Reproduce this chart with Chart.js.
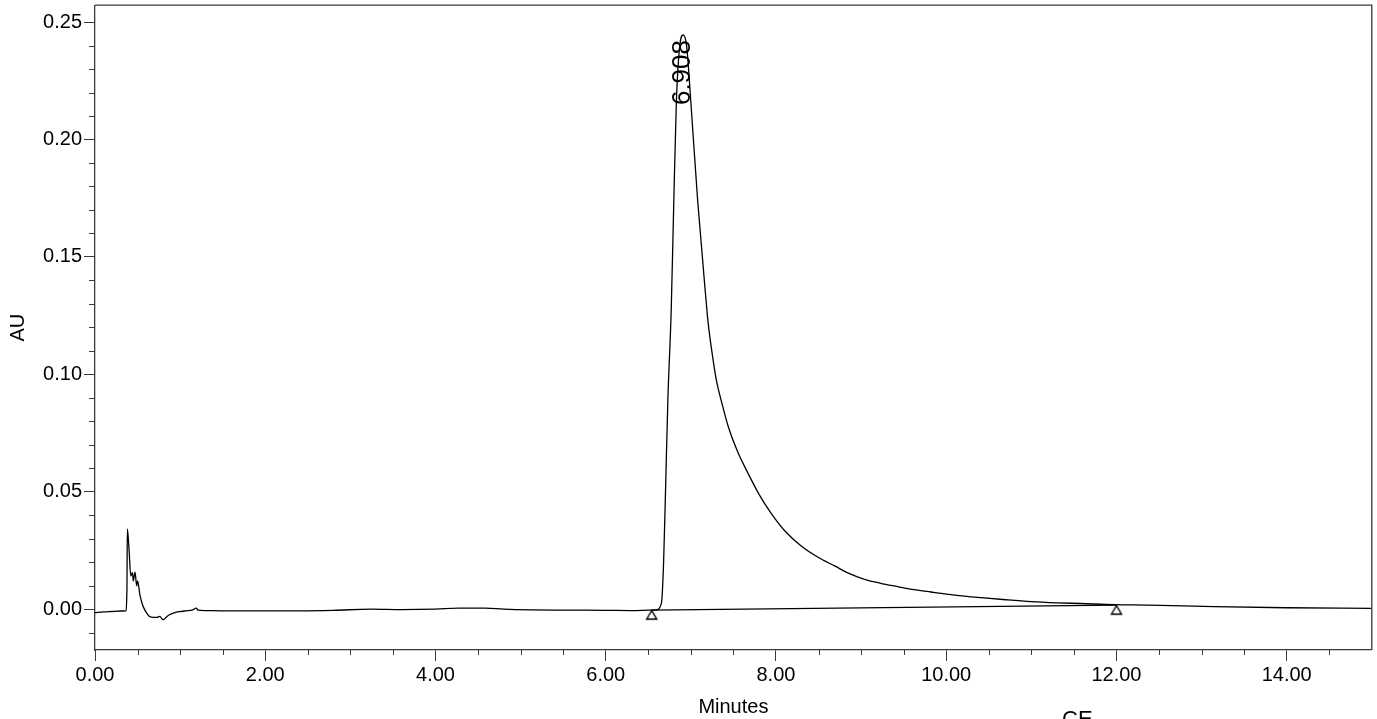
<!DOCTYPE html>
<html><head><meta charset="utf-8">
<script src="https://cdn.jsdelivr.net/npm/chart.js@4.4.1/dist/chart.umd.min.js"></script>
<style>html,body{margin:0;padding:0;background:#fff;overflow:hidden}#wrap{width:1377px;height:719px;position:relative}</style>
</head><body><div id="wrap"><canvas id="c" width="1377" height="719"></canvas></div>
<script>
// ---- data (minutes, AU) ----
const timeMin = [
  0.00,0.10,0.20,0.30,0.36,0.375,0.38,0.40,0.42,0.44,0.45,0.47,0.49,0.50,0.53,0.555,0.58,0.61,0.64,0.69,0.73,0.76,0.80,0.84,0.87,0.93,0.99,1.07,1.14,1.19,1.21,1.30,1.50,2.00,2.40,2.80,3.25,3.60,4.00,4.27,4.59,4.80,5.13,5.50,6.00,6.30,6.50,6.58,6.62,6.645,6.66,6.68,6.70,6.73,6.77,6.80,6.83,6.87,6.91,6.95,7.00,7.08,7.18,7.20,7.25,7.30,7.37,7.44,7.55,7.67,7.80,7.94,8.10,8.30,8.50,8.69,8.85,9.04,9.23,9.43,9.62,9.82,10.10,10.41,10.70,11.00,11.30,11.58,11.98,12.37,13.15,14.00,15.00
];
const absAU = [
  -0.0015,-0.0012,-0.0010,-0.0008,-0.0007,0.0080,0.0342,0.0254,0.0141,0.0155,0.0120,0.0158,0.0099,0.0120,0.0056,0.0022,0.0000,-0.0018,-0.0031,-0.0035,-0.0035,-0.0031,-0.0045,-0.0033,-0.0025,-0.0016,-0.0011,-0.0007,-0.0004,0.0004,-0.0004,-0.0006,-0.0007,-0.0007,-0.0007,-0.0005,0.0000,-0.0002,0.0000,0.0004,0.0004,0.0000,-0.0003,-0.0004,-0.0005,-0.0006,-0.0004,-0.0003,0.0000,0.0015,0.0042,0.0200,0.0466,0.0890,0.1280,0.1740,0.2160,0.2400,0.2445,0.2400,0.2160,0.1740,0.1310,0.1230,0.1090,0.0975,0.0870,0.0777,0.0670,0.0580,0.0490,0.0410,0.0335,0.0268,0.0220,0.0184,0.0153,0.0127,0.0110,0.0096,0.0083,0.0073,0.0060,0.0049,0.0040,0.0032,0.0027,0.0024,0.0019,0.0017,0.0011,0.0006,0.0003
];
const baselineTime = [6.54, 12.00];
const baselineAU = [-0.0004, 0.0017];
const peakTime = [6.908];
const peakAU = [0.2445];
const peakLabels = ['6.908'];
const xTickValues = [0, 2, 4, 6, 8, 10, 12, 14];
const yTickValues = [0.00, 0.05, 0.10, 0.15, 0.20, 0.25];
const xMinorStep = 0.5;
const yMinorStep = 0.01;
const footText = 'CE';

// open triangle marker, apex at image centre
const tri = document.createElement('canvas');
tri.width = 14; tri.height = 24;
(function(){
  const g = tri.getContext('2d');
  g.strokeStyle = '#000'; g.lineWidth = 1.4;
  g.beginPath(); g.moveTo(7, 12.5); g.lineTo(2, 21); g.lineTo(12, 21); g.closePath(); g.stroke();
})();

const AXIS = '#3a3a3a';
const FONT = "'Liberation Sans', Arial, sans-serif";
Chart.defaults.font.family = FONT;

const extras = {
  id: 'extras',
  afterDraw(chart) {
    const {ctx, chartArea: a, scales: {x, y}} = chart;
    ctx.save();
    ctx.strokeStyle = AXIS; ctx.lineWidth = 1.3;
    ctx.beginPath();
    ctx.moveTo(a.left, a.top); ctx.lineTo(a.right, a.top); ctx.lineTo(a.right, a.bottom);
    ctx.stroke();
    ctx.lineWidth = 1;
    ctx.beginPath();
    for (let v = x.min + xMinorStep; v < x.max; v += xMinorStep) {
      const r = Math.round(v * 100) / 100;
      if (xTickValues.some(t => Math.abs(t - r) < 1e-6)) continue;
      const px = Math.round(x.getPixelForValue(r)) + 0.5;
      ctx.moveTo(px, a.bottom); ctx.lineTo(px, a.bottom + 5);
    }
    for (let v = -0.01; v <= y.max; v += yMinorStep) {
      const r = Math.round(v * 1000) / 1000;
      if (yTickValues.some(t => Math.abs(t - r) < 1e-6)) continue;
      const py = Math.round(y.getPixelForValue(r)) + 0.5;
      ctx.moveTo(a.left, py); ctx.lineTo(a.left - 6, py);
    }
    ctx.stroke();
    ctx.fillStyle = '#000';
    ctx.font = '26px ' + FONT;
    peakTime.forEach((t, i) => {
      const px = x.getPixelForValue(t), py = y.getPixelForValue(peakAU[i]);
      ctx.save();
      ctx.translate(px, py + 5);
      ctx.rotate(-Math.PI / 2);
      ctx.textAlign = 'right'; ctx.textBaseline = 'middle';
      ctx.fillText(peakLabels[i], 0, 0);
      ctx.restore();
    });
    ctx.font = '22px ' + FONT;
    ctx.textAlign = 'left'; ctx.textBaseline = 'alphabetic';
    ctx.fillText(footText, 1062, 726);
    ctx.restore();
  }
};

new Chart(document.getElementById('c'), {
  type: 'line',
  data: {
    datasets: [
      {
        data: timeMin.map((t, i) => ({x: t, y: absAU[i]})),
        borderColor: '#000', borderWidth: 1.3, pointRadius: 0,
        cubicInterpolationMode: 'monotone', fill: false
      },
      {
        data: baselineTime.map((t, i) => ({x: t, y: baselineAU[i]})),
        borderColor: '#000', borderWidth: 1.2, tension: 0, fill: false,
        pointStyle: tri, pointRadius: 4
      }
    ]
  },
  options: {
    responsive: false, animation: false, events: [],
    layout: {padding: {top: 3, right: 3, left: 0, bottom: 0}},
    plugins: {legend: {display: false}, tooltip: {enabled: false}},
    scales: {
      x: {
        type: 'linear', min: 0, max: 15,
        afterBuildTicks: s => { s.ticks = xTickValues.map(v => ({value: v})); },
        afterFit: s => { s.height = 69; s.paddingLeft = 0; s.paddingRight = 0; },
        ticks: {callback: v => Number(v).toFixed(2), color: '#000', font: {size: 20}, padding: 2, maxRotation: 0, autoSkip: false},
        grid: {drawOnChartArea: false, tickLength: 11, color: AXIS, tickWidth: 1},
        border: {color: AXIS, width: 1.3},
        title: {display: true, text: 'Minutes', color: '#000', font: {size: 20}, padding: {top: 0, bottom: 0}}
      },
      y: {
        type: 'linear', min: -0.0174, max: 0.2572,
        afterBuildTicks: s => { s.ticks = yTickValues.map(v => ({value: v})); },
        afterFit: s => { s.width = 95; s.paddingTop = 0; s.paddingBottom = 0; },
        ticks: {callback: v => Number(v).toFixed(2), color: '#000', font: {size: 20}, padding: 2, autoSkip: false},
        grid: {drawOnChartArea: false, tickLength: 11, color: AXIS, tickWidth: 1},
        border: {color: AXIS, width: 1.3},
        title: {display: true, text: 'AU', color: '#000', font: {size: 20}, padding: {top: 6, bottom: 0}}
      }
    }
  },
  plugins: [extras]
});
</script>
</body></html>
